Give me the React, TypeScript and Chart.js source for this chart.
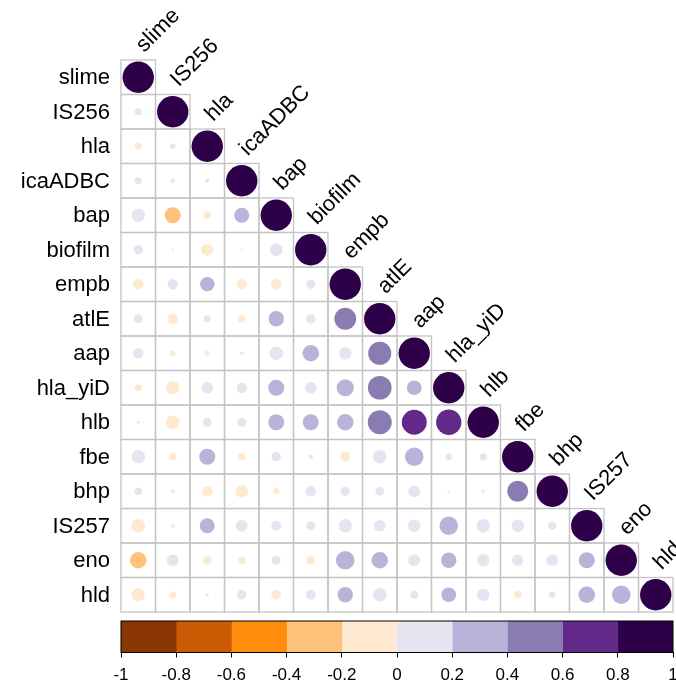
import React, { useEffect, useRef } from "react";
import { Chart, registerables } from "chart.js";

Chart.register(...registerables);

const variables = ["slime", "IS256", "hla", "icaADBC", "bap", "biofilm", "empb", "atlE", "aap", "hla_yiD", "hlb", "fbe", "bhp", "IS257", "eno", "hld"];

// lower-triangle correlations, row by row (column order = variables)
const rowSlime = [1];
const rowIS256 = [0.05, 1];
const rowHla = [-0.05, 0.03, 1];
const rowIcaADBC = [0.05, 0.02, 0.02, 1];
const rowBap = [0.18, -0.26, -0.06, 0.23, 1];
const rowBiofilm = [0.09, -0.01, -0.15, -0.01, 0.17, 1];
const rowEmpb = [-0.11, 0.11, 0.21, -0.11, -0.11, 0.08, 1];
const rowAtlE = [0.08, -0.11, 0.05, -0.06, 0.24, 0.09, 0.48, 1];
const rowAap = [0.11, -0.03, -0.03, 0.01, 0.19, 0.28, 0.16, 0.54, 1];
const rowHlaYiD = [-0.05, -0.19, 0.14, 0.11, 0.26, 0.14, 0.3, 0.57, 0.22, 1];
const rowHlb = [0.01, -0.19, 0.08, 0.08, 0.26, 0.26, 0.28, 0.58, 0.63, 0.65, 1];
const rowFbe = [0.19, -0.06, 0.26, -0.06, 0.09, 0.02, -0.1, 0.19, 0.35, 0.04, 0.05, 1];
const rowBhp = [0.06, -0.02, -0.11, -0.16, -0.04, 0.11, 0.09, 0.08, 0.14, -0.01, 0.01, 0.45, 1];
const rowIS257 = [-0.19, -0.02, 0.23, 0.14, 0.1, 0.08, 0.18, 0.14, 0.16, 0.35, 0.18, 0.16, 0.07, 1];
const rowEno = [-0.28, 0.14, -0.08, -0.06, 0.08, -0.07, 0.35, 0.28, 0.14, 0.24, 0.16, 0.13, 0.14, 0.26, 1];
const rowHld = [-0.18, -0.05, 0.01, 0.09, -0.1, 0.1, 0.24, 0.19, 0.07, 0.22, 0.16, -0.06, 0.04, 0.28, 0.35, 1];

const matrixRows = [rowSlime, rowIS256, rowHla, rowIcaADBC, rowBap, rowBiofilm, rowEmpb, rowAtlE, rowAap, rowHlaYiD, rowHlb, rowFbe, rowBhp, rowIS257, rowEno, rowHld];

const binEdges = [-1, -0.8, -0.6, -0.4, -0.2, 0, 0.2, 0.4, 0.6, 0.8, 1];
const binColors = ["#8C3703", "#CC5A04", "#FF8C0C", "#FFC27B", "#FFEAD1", "#E5E5F1", "#BAB3D9", "#8A7CB0", "#62298A", "#2D0049"];
const colorbarTicks = [-1, -0.8, -0.6, -0.4, -0.2, 0, 0.2, 0.4, 0.6, 0.8, 1];

const FONT = "'Liberation Sans', Arial, Helvetica, sans-serif";

function colorFor(v: number) {
  let i = Math.floor((v + 1) / 0.2 + 1e-9);
  if (i > 9) i = 9;
  if (i < 0) i = 0;
  return binColors[i];
}

function radiusFor(c: any) {
  const ca = c.chart.chartArea;
  const w = ca ? (ca.right - ca.left) / variables.length : 34.5;
  const v = c.raw ? c.raw.v : 0;
  return w * 0.455 * Math.sqrt(Math.abs(v));
}

export default function App() {
  const mainRef = useRef<HTMLCanvasElement>(null);
  const barRef = useRef<HTMLCanvasElement>(null);

  useEffect(() => {
    const offDiag: any[] = [];
    const diag: any[] = [];
    matrixRows.forEach((row, i) => {
      row.forEach((v, j) => {
        const p = { x: variables[j], y: variables[i], v };
        if (i === j) diag.push(p);
        else offDiag.push(p);
      });
    });
    // keep small circles at both ends of the list (layout overflow uses first/last point)
    const points = [...offDiag.slice(0, -1), ...diag, offDiag[offDiag.length - 1]];

    const gridPlugin = {
      id: "corrGrid",
      beforeDatasetsDraw(chart: any) {
        const { ctx, chartArea, scales } = chart;
        const w = (chartArea.right - chartArea.left) / variables.length;
        const h = (chartArea.bottom - chartArea.top) / variables.length;
        ctx.save();
        ctx.strokeStyle = "#C4C4C4";
        ctx.lineWidth = 1.3;
        for (let i = 0; i < variables.length; i++) {
          for (let j = 0; j <= i; j++) {
            const cx = scales.x.getPixelForValue(j);
            const cy = scales.y.getPixelForValue(i);
            ctx.strokeRect(cx - w / 2, cy - h / 2, w, h);
          }
        }
        ctx.restore();
      },
      afterDraw(chart: any) {
        const { ctx, chartArea, scales } = chart;
        const h = (chartArea.bottom - chartArea.top) / variables.length;
        ctx.save();
        ctx.fillStyle = "#000000";
        ctx.font = `22px ${FONT}`;
        ctx.textAlign = "right";
        ctx.textBaseline = "middle";
        variables.forEach((name, i) => {
          ctx.fillText(name, chartArea.left - 11, scales.y.getPixelForValue(i) + 1);
        });
        ctx.textAlign = "left";
        ctx.textBaseline = "alphabetic";
        variables.forEach((name, i) => {
          const cx = scales.x.getPixelForValue(i);
          const top = scales.y.getPixelForValue(i) - h / 2;
          ctx.save();
          ctx.translate(cx + 6, top - 7);
          ctx.rotate(-Math.PI / 4);
          ctx.fillText(name, 0, 0);
          ctx.restore();
        });
        ctx.restore();
      },
    };

    const main = new Chart(mainRef.current!, {
      type: "scatter",
      data: {
        datasets: [
          {
            data: points,
            pointStyle: "circle",
            borderWidth: 0,
            pointRadius: radiusFor,
            pointHoverRadius: radiusFor,
            backgroundColor: (c: any) => colorFor(c.raw ? c.raw.v : 0),
            borderColor: (c: any) => colorFor(c.raw ? c.raw.v : 0),
            clip: false,
          } as any,
        ],
      },
      options: {
        animation: false,
        responsive: true,
        maintainAspectRatio: false,
        layout: { autoPadding: false, padding: { left: 121, right: 3, top: 60, bottom: 4 } },
        plugins: { legend: { display: false }, tooltip: { enabled: false } },
        scales: {
          x: { type: "category", labels: variables, offset: true, display: false },
          y: { type: "category", labels: variables, offset: true, display: false },
        },
      } as any,
      plugins: [gridPlugin],
    });

    const outlinePlugin = {
      id: "cbOutline",
      afterDatasetsDraw(chart: any) {
        const { ctx, chartArea } = chart;
        ctx.save();
        ctx.strokeStyle = "#000000";
        ctx.lineWidth = 1;
        ctx.strokeRect(chartArea.left, chartArea.top, chartArea.right - chartArea.left, chartArea.bottom - chartArea.top);
        ctx.restore();
      },
    };

    const bar = new Chart(barRef.current!, {
      type: "bar",
      data: {
        labels: ["colorbar"],
        datasets: binColors.map((col, k) => ({
          data: [[binEdges[k], binEdges[k + 1]]],
          backgroundColor: col,
          borderWidth: 0,
          grouped: false,
          barPercentage: 1,
          categoryPercentage: 1,
        })) as any,
      },
      options: {
        indexAxis: "y",
        animation: false,
        responsive: true,
        maintainAspectRatio: false,
        layout: { autoPadding: false, padding: { left: 121, right: 23, top: 9, bottom: 0 } },
        plugins: { legend: { display: false }, tooltip: { enabled: false } },
        scales: {
          x: {
            type: "linear",
            min: -1,
            max: 1,
            afterBuildTicks: (axis: any) => {
              axis.ticks = colorbarTicks.map((v) => ({ value: v }));
            },
            ticks: {
              color: "#000000",
              font: { size: 17, family: FONT },
              padding: 8,
              maxRotation: 0,
              autoSkip: false,
              callback: (v: any) => String(Number(Number(v).toFixed(1))),
            },
            grid: { drawOnChartArea: false, tickLength: 5, color: "#000000", tickColor: "#000000", tickWidth: 1 },
            border: { display: true, color: "#000000", width: 1 },
          },
          y: { display: false },
        },
      } as any,
      plugins: [outlinePlugin],
    });

    return () => {
      main.destroy();
      bar.destroy();
    };
  }, []);

  return (
    <div style={{ position: "fixed", left: 0, top: 0, width: 676, height: 684, background: "#ffffff", overflow: "hidden" }}>
      <div style={{ position: "absolute", left: 0, top: 0, width: 676, height: 616 }}>
        <canvas ref={mainRef} />
      </div>
      <div style={{ position: "absolute", left: 0, top: 612, width: 696, height: 72 }}>
        <canvas ref={barRef} />
      </div>
    </div>
  );
}
